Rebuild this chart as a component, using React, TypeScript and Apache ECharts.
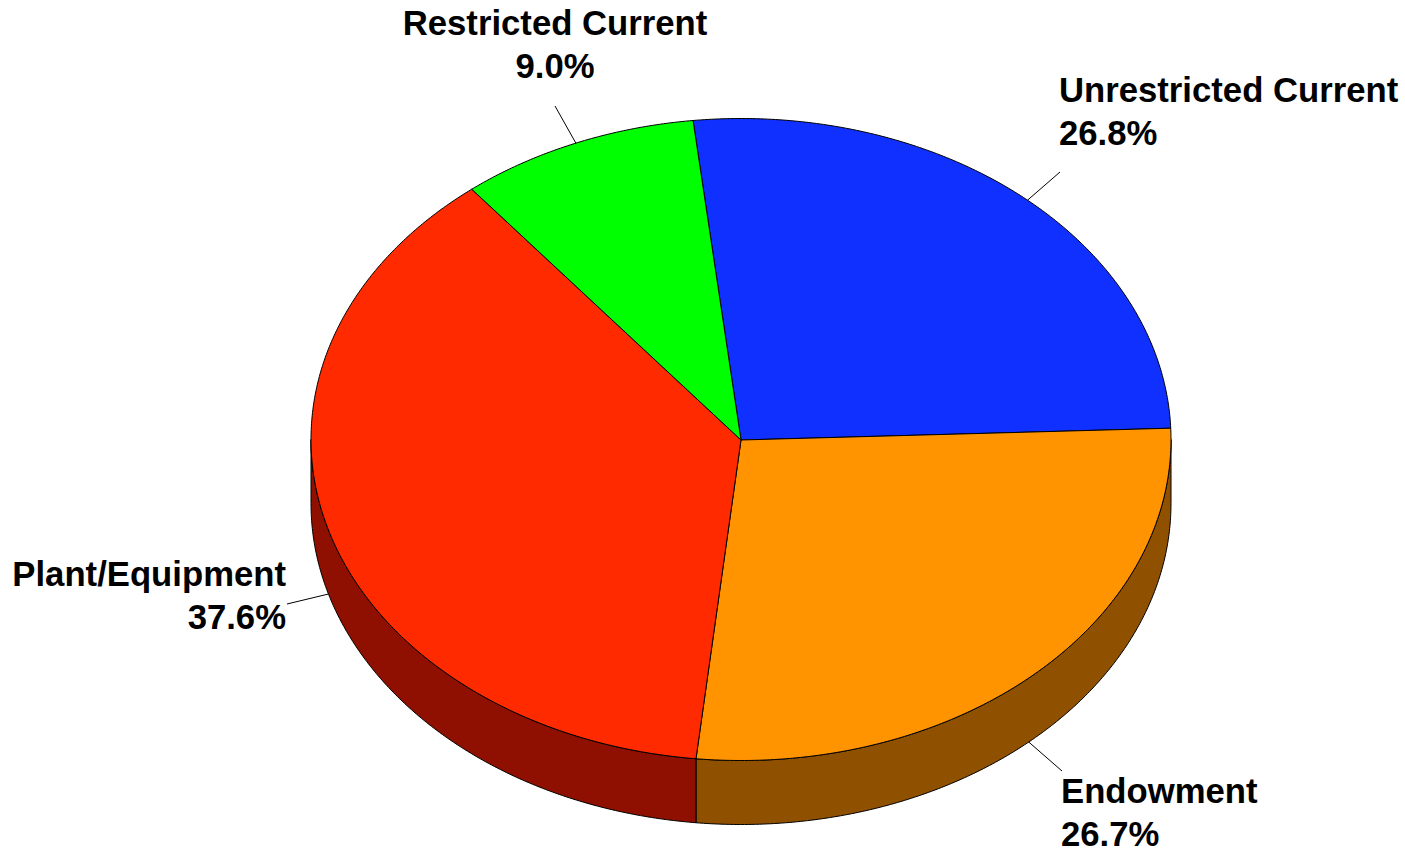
import React, { useEffect, useRef } from "react";
import * as echarts from "echarts";

const categories = ["Unrestricted Current", "Endowment", "Plant/Equipment", "Restricted Current"];
const values = [26.8, 26.7, 37.6, 9.0];
const topColors = ["#0f30ff", "#ff9400", "#ff2a00", "#00ff00"];
const wallColors = ["#0a2099", "#8f5000", "#8f1000", "#009900"];

// Layout
const CX = 741, CY = 439.5, RX = 430, RY = 321, DEPTH = 64;
const APEX_Y = 440;
const START = -6.4;
// The tilted drawing shifts the blue/orange edge slightly above the horizontal
const EDGE_SHIFT = [0, -2, 0, 0];
const FONT = "bold 34.7px 'Liberation Sans', Arial, sans-serif";
const LINE = 43;
const labelPos: [number, number, string][] = [
  [1059, 90, "left"],
  [1061, 791, "left"],
  [286, 573.5, "right"],
  [555, 23, "center"],
];
const leaderEnds: [number, number][] = [
  [1060, 172],
  [1062, 771],
  [287, 604],
  [555, 106],
];

const total = values.reduce((a, b) => a + b, 0);
const edges: number[] = [];
values.reduce((acc, v, i) => {
  edges[i] = acc;
  return acc + (v / total) * 360;
}, START);

const rim = (t: number, dy = 0): [number, number] => {
  const r = (t * Math.PI) / 180;
  return [CX + RX * Math.sin(r), CY - RY * Math.cos(r) + dy];
};
const arcPts = (a: number, b: number, dy = 0) => {
  const n = Math.max(2, Math.ceil(Math.abs(b - a) * 2));
  const pts: [number, number][] = [];
  for (let i = 0; i <= n; i++) pts.push(rim(a + ((b - a) * i) / n, dy));
  return pts;
};
const drawnStart = (i: number) => edges[i] + EDGE_SHIFT[i];
const drawnEnd = (i: number) =>
  i === values.length - 1 ? edges[0] + 360 : edges[i + 1] + EDGE_SHIFT[i + 1];

const stroke = { stroke: "#000", lineWidth: 1, lineJoin: "round" as const };

export default function App() {
  const ref = useRef<HTMLDivElement>(null);
  useEffect(() => {
    const chart = echarts.init(ref.current!, null, { renderer: "svg" });
    const data = values.map((v) => [v]);
    chart.setOption({
      animation: false,
      backgroundColor: "#fff",
      series: [
        {
          type: "custom",
          coordinateSystem: "none",
          silent: true,
          z: 1,
          data,
          renderItem: (p: any) => {
            const i = p.dataIndex;
            const a = Math.max(drawnStart(i), 90);
            const b = Math.min(drawnEnd(i), 270);
            if (b <= a) return { type: "group", children: [] };
            const pts = [...arcPts(a, b), ...arcPts(b, a, DEPTH)];
            return {
              type: "polygon",
              shape: { points: pts },
              style: { fill: wallColors[i], ...stroke },
            };
          },
        },
        {
          type: "custom",
          coordinateSystem: "none",
          silent: true,
          z: 2,
          data,
          renderItem: (p: any) => {
            const i = p.dataIndex;
            const pts = [[CX, APEX_Y], ...arcPts(drawnStart(i), drawnEnd(i))];
            return {
              type: "polygon",
              shape: { points: pts },
              style: { fill: topColors[i], ...stroke },
            };
          },
        },
        {
          type: "custom",
          coordinateSystem: "none",
          silent: true,
          z: 3,
          data,
          renderItem: (p: any) => {
            const i = p.dataIndex;
            const mid = edges[i] + (values[i] / total) * 180;
            const lower = mid > 90 && mid < 270;
            const [x1, y1] = rim(mid, lower ? DEPTH : 0);
            const [x2, y2] = leaderEnds[i];
            const [lx, ly, align] = labelPos[i];
            const text = (t: string, y: number) => ({
              type: "text",
              style: {
                text: t,
                x: lx,
                y,
                font: FONT,
                fill: "#000",
                align,
                verticalAlign: "middle",
              },
            });
            return {
              type: "group",
              children: [
                { type: "line", shape: { x1, y1, x2, y2 }, style: { stroke: "#000", lineWidth: 1 } },
                text(categories[i], ly),
                text(values[i].toFixed(1) + "%", ly + LINE),
              ],
            };
          },
        },
      ],
    });
    return () => chart.dispose();
  }, []);
  return (
    <div
      ref={ref}
      style={{ position: "absolute", left: 0, top: 0, width: 1405, height: 849, background: "#fff" }}
    />
  );
}
